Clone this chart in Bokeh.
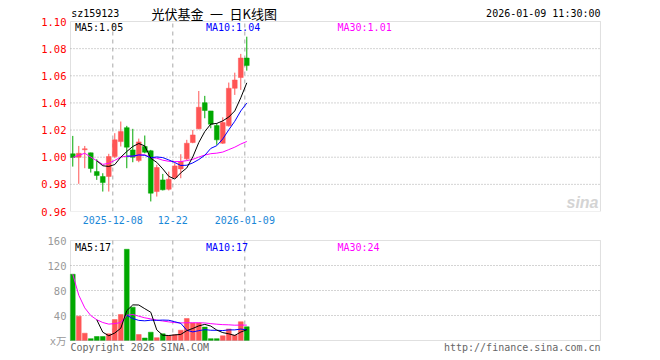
from bokeh.plotting import figure
from bokeh.models import ColumnDataSource, Range1d, FixedTicker, Label, PrintfTickFormatter, BoxAnnotation
from bokeh.layouts import column
from bokeh.embed import file_html
from bokeh.resources import INLINE

# ---------------- data ----------------
dates = ["2025-11-27", "2025-11-28", "2025-12-01", "2025-12-02", "2025-12-03", "2025-12-04",
         "2025-12-05", "2025-12-08", "2025-12-09", "2025-12-10", "2025-12-11", "2025-12-12",
         "2025-12-15", "2025-12-16", "2025-12-17", "2025-12-18", "2025-12-19", "2025-12-22",
         "2025-12-23", "2025-12-24", "2025-12-25", "2025-12-26", "2025-12-29", "2025-12-30",
         "2025-12-31", "2026-01-05", "2026-01-06", "2026-01-07", "2026-01-08", "2026-01-09"]

opens = [1.0025, 1.0000, 1.0055, 1.0032, 0.9894, 0.9858, 0.9858, 1.0005, 1.0115, 1.0218,
         1.0054, 0.9975, 1.0079, 1.0047, 0.9747, 0.9833, 0.9764, 0.9850, 0.9914, 0.9988,
         1.0108, 1.0209, 1.0402, 1.0341, 1.0233, 1.0103, 1.0231, 1.0508, 1.0587, 1.0731]
highs = [1.0157, 1.0083, 1.0083, 1.0034, 0.9985, 0.9882, 1.0025, 1.0177, 1.0263, 1.0231,
         1.0209, 1.0137, 1.0160, 1.0054, 0.9944, 0.9877, 0.9894, 0.9956, 1.0022, 1.0128,
         1.0201, 1.0488, 1.0452, 1.0341, 1.0250, 1.0294, 1.0550, 1.0623, 1.0761, 1.0888]
lows = [0.9931, 0.9804, 0.9919, 0.9887, 0.9833, 0.9747, 0.9747, 0.9993, 1.0079, 0.9919,
        0.9963, 0.9963, 1.0029, 0.9674, 0.9710, 0.9755, 0.9755, 0.9845, 0.9845, 0.9980,
        1.0103, 1.0206, 1.0287, 1.0213, 1.0091, 1.0098, 1.0226, 1.0459, 1.0496, 1.0638]
closes = [0.9998, 1.0029, 1.0062, 0.9917, 0.9865, 0.9813, 1.0005, 1.0128, 1.0189, 1.0074,
          1.0000, 1.0113, 1.0037, 0.9735, 0.9924, 0.9760, 0.9838, 0.9936, 0.9968, 1.0103,
          1.0164, 1.0368, 1.0344, 1.0243, 1.0128, 1.0255, 1.0508, 1.0569, 1.0731, 1.0675]

# moving averages of price (MA5 from the 5th day, MA10 from the 10th day, MA30 from day 1)
ma5 = [0.9974, 0.9937, 0.9932, 0.9946, 1.0000, 1.0042, 1.0079, 1.0101, 1.0083, 0.9992,
       0.9962, 0.9914, 0.9859, 0.9839, 0.9885, 0.9921, 1.0002, 1.0108, 1.0189, 1.0244,
       1.0249, 1.0268, 1.0296, 1.0341, 1.0438, 1.0548]
ma10 = [1.0008, 1.0008, 1.0017, 1.0014, 0.9996, 1.0002, 0.9997, 0.9980, 0.9961, 0.9939,
        0.9941, 0.9958, 0.9983, 1.0014, 1.0065, 1.0085, 1.0135, 1.0202, 1.0265, 1.0341, 1.0399]
ma30 = [0.9998, 1.0014, 1.0029, 1.0001, 0.9974, 0.9947, 0.9955, 0.9977, 1.0001, 1.0008,
        1.0007, 1.0016, 1.0018, 0.9997, 0.9993, 0.9978, 0.9970, 0.9968, 0.9968, 0.9975,
        0.9984, 1.0001, 1.0016, 1.0026, 1.0030, 1.0038, 1.0056, 1.0074, 1.0097, 1.0116]

# volume (x万)
volumes = [106, 39, 11.7, 3, 6.4, 6.4, 10.7, 33.6, 41.6, 146, 53.3, 9.6, 4, 13.3, 4.5,
           10.7, 7.5, 9.1, 16.5, 35.2, 28, 28, 21.5, 3, 3, 7.5, 18.5, 8.5, 30, 22]
vol_ma5 = [33.2, 13.3, 7.6, 12.0, 19.7, 47.7, 57.0, 56.8, 50.9, 45.2, 16.9, 8.4, 8.0,
           9.0, 9.7, 15.8, 19.3, 23.4, 25.8, 23.1, 16.7, 12.6, 10.7, 8.1, 13.5, 17.3]
vol_ma10 = [40.4, 35.2, 32.2, 31.5, 32.5, 32.3, 32.7, 32.4, 30.0, 27.5, 16.4, 13.8, 15.7,
            17.4, 16.4, 16.3, 15.9, 17.0, 17.0, 18.3, 17.0]
vol_ma30 = [106, 72.5, 52.2, 39.9, 33.2, 28.8, 26.2, 27.1, 28.7, 40.4, 41.6, 38.9, 36.3,
            34.6, 32.6, 31.2, 29.8, 28.7, 28.1, 28.4, 28.4, 28.4, 28.1, 27.0, 26.1, 25.4,
            25.1, 24.5, 24.7, 24.6]

price_ticks = [0.96, 0.98, 1.00, 1.02, 1.04, 1.06, 1.08, 1.10]
vol_ticks = [0, 40, 80, 120, 160]
vol_unit = "x万"
date_tick_dates = ["2025-12-08", "2025-12-22", "2026-01-09"]
date_tick_labels = ["2025-12-08", "12-22", "2026-01-09"]

code = "sz159123"
title_cn = "光伏基金\u2002一\u2002日K线图"
stamp = "2026-01-09 11:30:00"

# ---------------- styling ----------------
RED = "#ff5555"
GREEN = "#00a800"
MONO = "DejaVu Sans Mono"
CJK = "Noto Sans CJK SC"
GRID = "#a8a8a8"
BORDER = "#999999"

n = len(dates)
idx = list(range(n))
up = [c >= o for o, c in zip(opens, closes)]
colors = [RED if u else GREEN for u in up]
src = ColumnDataSource(dict(
    x=idx, o=opens, h=highs, l=lows, c=closes,
    top=[max(o, c) for o, c in zip(opens, closes)],
    bot=[min(o, c) for o, c in zip(opens, closes)],
    vol=volumes, color=colors))

tick_pos = [round(dates.index(d) - 0.33, 2) for d in date_tick_dates]

# panel box in x data units, and the (slightly wider) frame around it
BOX_X = (-0.38, 87.95)
PX = 6.0                              # pixels per day
FRAME_L, FRAME_R = 66, 606            # frame edges on the canvas
XR = (BOX_X[0] - 4 / PX, BOX_X[1] + 6 / PX)


def make_fig(height, yr, top, bottom):
    p = figure(width=660, height=height, x_range=Range1d(*XR), y_range=Range1d(*yr),
               output_backend="svg", toolbar_location=None, title=None,
               min_border_left=FRAME_L, min_border_right=660 - FRAME_R,
               min_border_top=top, min_border_bottom=bottom)
    p.outline_line_color = None
    p.background_fill_color = "white"
    p.border_fill_color = "white"
    p.grid.visible = False
    for ax in (p.xaxis[0], p.yaxis[0]):
        ax.axis_line_color = None
        ax.major_tick_line_color = None
        ax.minor_tick_line_color = None
        ax.major_tick_out = 0
        ax.major_tick_in = 0
        ax.minor_tick_out = 0
        ax.minor_tick_in = 0
        ax.major_label_text_font = MONO
        ax.major_label_text_font_size = "10px"
    return p


def panel_decor(p, y_lo, y_hi, grid_vals):
    # dotted horizontal grid
    p.segment(x0=[BOX_X[0]] * len(grid_vals), x1=[BOX_X[1]] * len(grid_vals),
              y0=grid_vals, y1=grid_vals, line_color=GRID, line_dash="1 2", line_width=1)
    # dashed vertical date lines
    p.segment(x0=tick_pos, x1=tick_pos, y0=[y_lo] * len(tick_pos), y1=[y_hi] * len(tick_pos),
              line_color=GRID, line_dash="4 4", line_width=1)
    p.add_layout(BoxAnnotation(left=BOX_X[0], right=BOX_X[1], bottom=y_lo, top=y_hi,
                               fill_alpha=0, line_color=BORDER, line_width=1))


# ---------------- main (price) panel ----------------
H1 = 232
P1_TOP, P1_BOT = 21, 211              # canvas y of 1.10 and 0.96
ppu1 = (P1_BOT - P1_TOP) / (price_ticks[-1] - price_ticks[0])
yr1 = (price_ticks[0], price_ticks[-1] + P1_TOP / ppu1)
p1 = make_fig(H1, yr1, 0, H1 - P1_BOT)
p1.yaxis.ticker = FixedTicker(ticks=price_ticks)
p1.yaxis.formatter = PrintfTickFormatter(format="%.2f")
p1.yaxis.major_label_text_color = "#ff0000"
p1.yaxis.major_label_text_font_size = "10.5px"
p1.yaxis.major_label_standoff = 0
p1.xaxis.ticker = FixedTicker(ticks=tick_pos)
p1.xaxis.major_label_overrides = {t: s for t, s in zip(tick_pos, date_tick_labels)}
p1.xaxis.major_label_text_color = "#1a88d8"
p1.xaxis.major_label_standoff = 4

panel_decor(p1, price_ticks[0], price_ticks[-1], price_ticks[1:-1])
p1.segment(x0="x", y0="l", x1="x", y1="h", color="color", line_width=1, source=src)
p1.vbar(x="x", top="top", bottom="bot", width=0.8, fill_color="color", line_color="color",
        line_width=0.5, source=src)
p1.line(idx[n - len(ma30):], ma30, color="#ff00ff", line_width=1)
p1.line(idx[n - len(ma10):], ma10, color="#0000ff", line_width=1)
p1.line(idx[n - len(ma5):], ma5, color="#000000", line_width=1)


def lab(p, text, px, py, frame_bottom, color="#000000", size="10px", font=MONO,
        align="left", style="normal"):
    p.add_layout(Label(x=px - FRAME_L, y=frame_bottom - py, x_units="screen", y_units="screen",
                       text=text, text_color=color, text_font=font, text_font_size=size,
                       text_align=align, text_baseline="middle", text_font_style=style))


lab(p1, code, 70.7, 12.5, P1_BOT)
lab(p1, title_cn, 151, 13, P1_BOT, size="13px", font=CJK)
lab(p1, stamp, 600, 12.5, P1_BOT, align="right")
lab(p1, "MA5:%.2f" % ma5[-1], 74.5, 27.3, P1_BOT)
lab(p1, "MA10:%.2f" % ma10[-1], 205.5, 27.3, P1_BOT, color="#0000ff")
lab(p1, "MA30:%.2f" % ma30[-1], 337, 27.3, P1_BOT, color="#ff00ff")
lab(p1, "sina", 598, 202, P1_BOT, color="#d4d4d4", size="16px", font="Liberation Sans",
    align="right", style="bold italic")

# ---------------- volume panel ----------------
H2 = 128
P2_TOP, P2_BOT = 240 - H1, 340 - H1   # local canvas y of 160 and 0
ppu2 = (P2_BOT - P2_TOP) / (vol_ticks[-1] - vol_ticks[0])
yr2 = (vol_ticks[0] - (H2 - P2_BOT) / ppu2, vol_ticks[-1] + 4 / ppu2)
p2 = make_fig(H2, yr2, P2_TOP - 4, 0)
p2.xaxis.visible = False
p2.yaxis.ticker = FixedTicker(ticks=vol_ticks)
p2.yaxis.major_label_overrides = {vol_ticks[0]: vol_unit}
p2.yaxis.major_label_text_color = "#999999"
p2.yaxis.major_label_text_font = MONO + ", " + CJK
p2.yaxis.major_label_text_font_size = "10.5px"
p2.yaxis.major_label_standoff = 0

panel_decor(p2, vol_ticks[0], vol_ticks[-1], vol_ticks[1:-1])
p2.vbar(x="x", top="vol", bottom=0, width=0.8, fill_color="color", line_color="color",
        line_width=0.5, source=src)
p2.line(idx[n - len(vol_ma30):], vol_ma30, color="#ff00ff", line_width=1)
p2.line(idx[n - len(vol_ma10):], vol_ma10, color="#0000ff", line_width=1)
p2.line(idx[n - len(vol_ma5):], vol_ma5, color="#000000", line_width=1)

lab(p2, "MA5:%d" % int(vol_ma5[-1]), 74.5, 247.3 - H1, H2)
lab(p2, "MA10:%d" % int(vol_ma10[-1]), 205.5, 247.3 - H1, H2, color="#0000ff")
lab(p2, "MA30:%d" % int(vol_ma30[-1]), 337, 247.3 - H1, H2, color="#ff00ff")
lab(p2, "Copyright 2026 SINA.COM", 70, 346.5 - H1, H2, color="#666666")
lab(p2, "http://finance.sina.com.cn", 600, 346.5 - H1, H2, color="#666666", align="right")

layout = column(p1, p2, spacing=0)
open("out.html", "w").write(file_html(layout, INLINE))
